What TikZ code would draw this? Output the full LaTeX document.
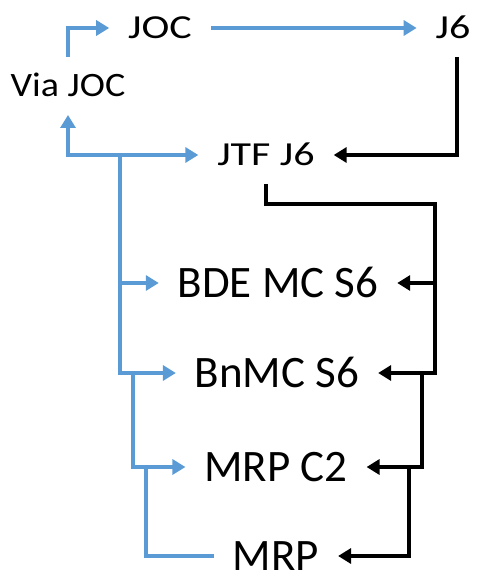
\documentclass[tikz,border=0pt]{standalone}
\usepackage{fontspec}
\setmainfont{Carlito}
\usepackage{tikz}
\usetikzlibrary{positioning, arrows.meta, calc}
\definecolor{linkblue}{HTML}{5B9BD5}
\newcommand{\squashed}[2][0.8]{\scalebox{1}[#1]{#2}}

\begin{document}
\begin{tikzpicture}[
    x=1pt, y=-1pt,
    unit/.style={
        inner sep=0pt, outer xsep=19pt, outer ysep=18pt,
        text height=29pt, text depth=0pt,
        font=\fontsize{45}{45}\selectfont
    },
    hq/.style={
        unit, text height=22pt,
        font=\fontsize{42}{42}\selectfont
    },
    upflow/.style={-{Triangle[length=13pt, width=15pt]}, line width=3.5pt, linkblue},
    upline/.style={line width=3.5pt, linkblue},
    downflow/.style={-{Triangle[length=13pt, width=15pt]}, line width=3.5pt, black}
]
\useasboundingbox (0,0) rectangle (477,577);

% === Command levels (top to bottom) ===
\node[hq] (joc) at (160,28) {\squashed{JOC}};
\node[hq] (j6) at (453,28) {\squashed{J6}};
\node[hq, font=\fontsize{38}{38}\selectfont] (via) at (68,86)
    {\squashed[0.9]{Via JOC}};
\node[hq] (jtf) at (266,155) {\squashed{JTF J6}};

\node[unit] (bde) at (278,283) {BDE MC S6};
\node[unit] (bnmc) at (277,373) {BnMC S6};
\node[unit] (mrpc) at (276,467) {MRP C2};
\node[unit, outer ysep=0pt] (mrp) at (276,556) {MRP};

% Bus junctions
\coordinate (busA) at (120,155);
\coordinate (busB) at (133,373);
\coordinate (busC) at (146,467);
\coordinate (busD) at (435,204);
\coordinate (busE) at (422,373);
\coordinate (busF) at (409,467);

% === Blue flow (upwards) ===
\draw[upline] (mrp.west) -| (busC);
\draw[upflow] (busB) |- (mrpc.west);
\draw[upflow] (busA) |- (bnmc.west);
\draw[upflow] (busA |- bde.west) -- (bde.west);
\draw[upflow] (busA) -- (jtf.west);
\draw[upflow] (busA) -| (via.south);
\draw[upflow] (via.north) |- (joc.west);
\draw[upflow] (joc.east) -- (j6.west);

% === Black flow (downwards) ===
\draw[downflow] ([xshift=4pt]j6.south) |- (jtf.east);
\draw[downflow] (jtf.south) |- (busD) |- (bnmc.east);
\draw[downflow] (busD |- bde.east) -- (bde.east);
\draw[downflow] (busE) |- (mrpc.east);
\draw[downflow] (busF) |- (mrp.east);

\end{tikzpicture}
\end{document}
